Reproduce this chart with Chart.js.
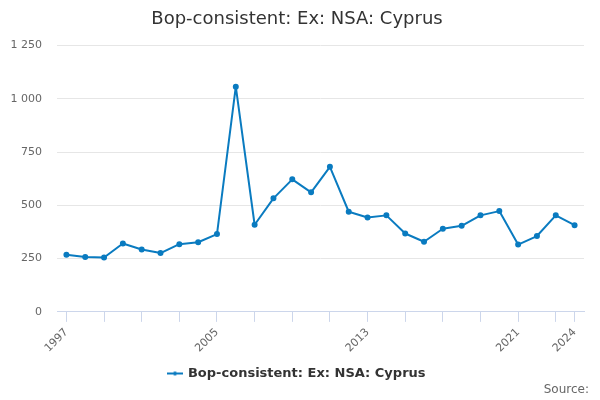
<!DOCTYPE html>
<html>
<head>
<meta charset="utf-8">
<script src="https://cdn.jsdelivr.net/npm/chart.js@4"></script>
<style>
  body { margin: 0; background: #fff; }
  #wrap { width: 600px; height: 400px; }
</style>
</head>
<body>
<div id="wrap"><canvas id="chart_cyprus"></canvas></div>
<script>
const years = [
  "1997", "1998", "1999", "2000", "2001", "2002", "2003", "2004", "2005", "2006",
  "2007", "2008", "2009", "2010", "2011", "2012", "2013", "2014", "2015", "2016",
  "2017", "2018", "2019", "2020", "2021", "2022", "2023", "2024",
];
const exportValues = [
  268, 258, 255, 321, 293, 276, 318, 327, 365, 1057,
  409, 533, 622, 561, 681, 470, 443, 453, 368, 329,
  390, 404, 453, 473, 316, 356, 453, 407,
];
const shownYears = ["1997", "2005", "2013", "2021", "2024"];
const seriesName = "Bop-consistent: Ex: NSA: Cyprus";
const sourceText = "Source:";

const lineColor = "#0a7bc0";

// little legend symbol: a line with a dot in the middle
function legendSymbol() {
  const c = document.createElement("canvas");
  c.width = 16;
  c.height = 8;
  const ctx = c.getContext("2d");
  ctx.strokeStyle = lineColor;
  ctx.lineWidth = 2;
  ctx.beginPath();
  ctx.moveTo(0, 4);
  ctx.lineTo(16, 4);
  ctx.stroke();
  ctx.fillStyle = lineColor;
  ctx.beginPath();
  ctx.arc(8, 4, 2, 0, Math.PI * 2);
  ctx.fill();
  return c;
}

function hasTickMark(i) {
  return i % 2 === 0 || i === years.length - 1;
}

// "Source:" credit in the bottom right corner
const sourceCredit = {
  id: "sourceCredit",
  afterDraw(chart) {
    const ctx = chart.ctx;
    ctx.save();
    ctx.font = "12px 'DejaVu Sans'";
    ctx.fillStyle = "#666";
    ctx.textAlign = "right";
    ctx.textBaseline = "middle";
    ctx.fillText(sourceText, chart.width - 11, chart.height - 10);
    ctx.restore();
  },
};

const chart_cyprus = new Chart(document.getElementById("chart_cyprus"), {
  type: "line",
  data: {
    labels: years,
    datasets: [
      {
        label: seriesName,
        data: exportValues,
        borderColor: lineColor,
        backgroundColor: lineColor,
        borderWidth: 2,
        borderJoinStyle: "round",
        pointRadius: 2,
        pointHoverRadius: 4,
        pointStyle: "circle",
        tension: 0,
      },
    ],
  },
  plugins: [sourceCredit],
  options: {
    responsive: true,
    maintainAspectRatio: false,
    animation: false,
    layout: {
      padding: { left: 10, right: 16, top: 4, bottom: 10 },
    },
    scales: {
      x: {
        offset: true,
        border: { color: "#ccd6eb" },
        grid: {
          offset: false,
          drawOnChartArea: false,
          tickLength: 10,
          tickColor: (ctx) => (hasTickMark(ctx.index) ? "#ccd6eb" : "rgba(0,0,0,0)"),
        },
        ticks: {
          autoSkip: false,
          maxRotation: 45,
          minRotation: 45,
          padding: 4,
          color: "#666",
          font: { family: "DejaVu Sans", size: 11 },
          callback: function (value, index) {
            const y = years[index];
            return shownYears.includes(y) ? y : "";
          },
        },
      },
      y: {
        min: 0,
        max: 1250,
        border: { display: false },
        grid: { color: "#e6e6e6", drawTicks: false },
        ticks: {
          stepSize: 250,
          padding: 15,
          color: "#666",
          font: { family: "DejaVu Sans", size: 11 },
          callback: (v) => String(v).replace(/\B(?=(\d{3})+(?!\d))/g, " "),
        },
        afterFit: (scale) => {
          scale.width = 47;
        },
      },
    },
    plugins: {
      title: {
        display: true,
        text: seriesName,
        color: "#333",
        font: { family: "DejaVu Sans", size: 18, weight: "normal" },
        padding: { top: 5, bottom: 15 },
      },
      legend: {
        position: "bottom",
        labels: {
          usePointStyle: true,
          color: "#333",
          font: { family: "DejaVu Sans", size: 13, weight: "bold" },
          padding: 8,
          generateLabels: () => [
            {
              text: seriesName,
              pointStyle: legendSymbol(),
              fontColor: "#333",
              datasetIndex: 0,
            },
          ],
        },
      },
      tooltip: { enabled: false },
    },
  },
});
</script>
</body>
</html>
